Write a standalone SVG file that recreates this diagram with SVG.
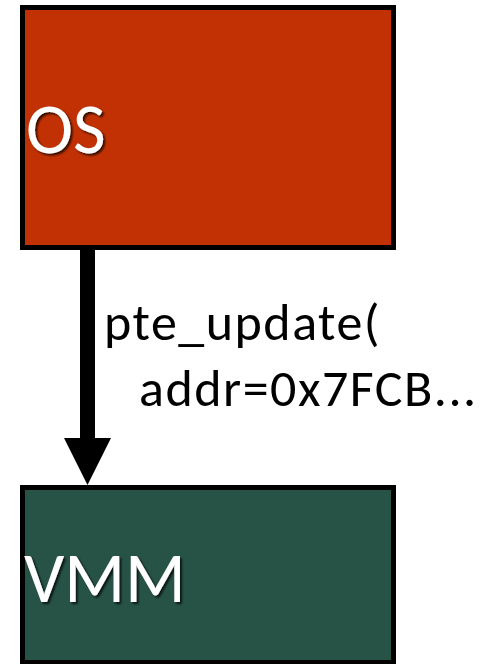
<svg xmlns="http://www.w3.org/2000/svg" width="493" height="664" viewBox="0 0 493 664">
  <defs>
    <filter id="shadow" x="-10%" y="-10%" width="130%" height="140%">
      <feDropShadow dx="2" dy="2" stdDeviation="1.2" flood-color="#000" flood-opacity="0.75"/>
    </filter>
  </defs>
  <style>
    .box { stroke: #000; stroke-width: 5; }
    .title { font-family: Carlito, Lato, "Liberation Sans", sans-serif; font-size: 71px; fill: #fff; filter: url(#shadow); }
    .label { font-family: Carlito, Lato, "Liberation Sans", sans-serif; font-size: 52px; letter-spacing: 1.5px; fill: #000; }
  </style>
  <rect width="493" height="664" fill="#fff"/>

  <g id="connectors">
    <rect x="80" y="250" width="15" height="190" fill="#000"/>
    <polygon points="64,438 111,438 87.5,485" fill="#000"/>
    <text class="label" x="104" y="340">pte_update(</text>
    <text class="label" x="139" y="406">addr=0x7FCB...</text>
  </g>

  <g id="os">
    <rect class="box" x="22.5" y="7.5" width="371" height="240" fill="#C23103"/>
    <text class="title" x="26" y="153">OS</text>
  </g>

  <g id="vmm">
    <rect class="box" x="22.5" y="487.5" width="371" height="175" fill="#275346"/>
    <text class="title" x="24" y="602">VMM</text>
  </g>
</svg>
